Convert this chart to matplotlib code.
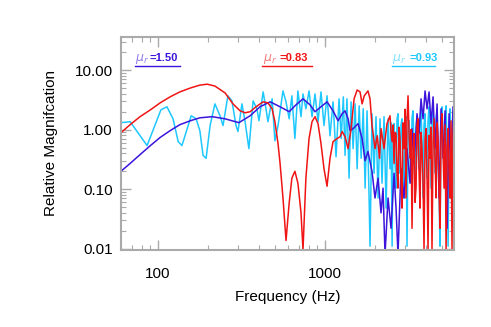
import matplotlib
matplotlib.use("Agg")
import matplotlib.pyplot as plt
from matplotlib.ticker import FixedLocator, FixedFormatter, LogLocator, NullFormatter

plt.rcParams['font.family'] = ['Liberation Sans', 'DejaVu Sans']

# mu_r = 1.50 (blue)
blue_f = [60, 68, 78, 90, 103, 118, 135, 156, 178, 211, 252, 305, 356, 408, 469, 538,
          610, 670, 738, 813, 871, 946, 1028, 1117, 1197, 1266, 1318, 1374, 1412, 1473,
          1578, 1668, 1738, 1808, 1911, 1992, 2077, 2165, 2225, 2287, 2384, 2485, 2590,
          2662, 2735, 2851, 2972, 3097, 3228, 3319, 3412, 3557, 3656, 3758, 3863, 3972,
          4083, 4197, 4315, 4436, 4560, 4688, 4819, 4954, 5093, 5236, 5383, 5534, 5680,
          5840, 5920]
blue_m = [0.20, 0.27, 0.38, 0.54, 0.74, 0.96, 1.21, 1.41, 1.58, 1.65, 1.52, 1.31, 1.71,
          2.42, 2.93, 2.42, 2.0, 2.61, 3.29, 2.61, 2.0, 2.42, 2.93, 2.07, 1.41, 1.85,
          2.07, 1.52, 0.96, 1.04, 1.26, 0.71, 0.30, 0.43, 0.20, 0.071, 0.153, 0.040,
          0.104, 0.008, 0.071, 0.022, 0.185, 0.048, 0.008, 0.22, 0.071, 0.48, 0.126,
          1.04, 0.27, 1.85, 0.86, 3.29, 1.52, 4.47, 2.24, 4.3, 1.26, 3.55, 0.48, 2.7,
          0.071, 2.24, 0.33, 2.07, 0.022, 1.85, 0.153, 2.42, 0.71]

# mu_r = 0.83 (red)
red_f = [60, 68, 78, 90, 103, 118, 135, 156, 178, 197, 219, 252, 281, 310, 332, 356,
         386, 426, 455, 482, 501, 523, 538, 560, 584, 610, 633, 660, 688, 718, 738, 768,
         802, 836, 871, 908, 946, 986, 1028, 1071, 1117, 1183, 1230, 1266, 1318, 1374,
         1432, 1493, 1557, 1621, 1668, 1717, 1808, 1860, 1911, 1992, 2054, 2120, 2165,
         2256, 2350,
         2450, 2485, 2522, 2553, 2590, 2624, 2662, 2698, 2735, 2773, 2812, 2851, 2890,
         2931, 2972, 3013, 3055, 3097, 3141, 3184, 3228, 3273, 3319, 3365, 3412, 3459,
         3507, 3557, 3606, 3656, 3705, 3758, 3808, 3863, 3916, 3972, 4026, 4083, 4139,
         4197, 4253, 4315, 4371, 4436, 4498, 4560, 4624, 4688, 4753, 4819, 4882, 4954,
         5018, 5093, 5160, 5236, 5307, 5383, 5457, 5534, 5605, 5680, 5760, 5840, 5920]
red_m = [0.89, 1.21, 1.65, 2.15, 2.82, 3.55, 4.3, 5.0, 5.6, 5.8, 5.4, 4.14, 2.71, 2.07,
         1.92, 2.0, 2.42, 2.93, 2.82, 2.24, 1.36, 0.58, 0.27, 0.071, 0.0137, 0.059,
         0.153, 0.20, 0.126, 0.040, 0.0096, 0.153, 0.71, 1.36, 1.65, 1.26, 0.58, 0.22,
         0.112, 0.33, 0.63, 0.71, 0.76, 0.93, 0.76, 0.48, 1.04, 3.29, 4.64, 4.3, 2.71,
         3.7, 4.47, 3.29, 1.17, 0.48, 0.79, 0.33, 1.04, 0.48, 1.26,
         1.71, 0.9, 0.63, 1.2, 0.27, 0.9, 0.86, 0.2, 0.104, 1.1, 0.71, 0.15, 0.048,
         1.3, 0.48, 2.2, 0.071, 1.5, 3.7, 0.9, 0.33, 1.0, 0.022, 0.5, 0.86, 0.06,
         0.104, 1.2, 1.52, 0.2, 0.048, 0.9, 0.48, 0.12, 0.01, 0.7, 1.04, 0.15, 0.0096,
         0.8, 0.33, 1.1, 0.0096, 0.6, 1.52, 0.3, 0.071, 1.3, 0.71, 0.09, 0.022, 0.8,
         1.85, 0.4, 0.104, 1.2, 0.0096, 0.5, 1.04, 0.2, 0.071, 1.4, 0.0096, 0.9, 1.52]

# mu_r = 0.93 (cyan)
cyan_f = [60, 68, 86, 104, 113, 123, 132, 139, 158, 169, 178, 186, 194, 205, 219, 235,
          245, 262, 277, 293, 301, 318, 332, 350, 371, 391, 402, 426, 443, 455, 482, 501,
          523, 560, 584, 610, 633, 660, 688, 718, 738, 768, 802, 836, 871, 908, 946, 986,
          1028, 1071, 1117, 1164, 1213, 1250, 1287, 1318, 1353, 1393, 1432, 1473, 1514,
          1557, 1601, 1646, 1693, 1738, 1785, 1836, 1860, 1911, 1965, 2020, 2077, 2135,
          2195, 2256, 2320, 2384,
          2450, 2485, 2522, 2553, 2590, 2624, 2662, 2698, 2735, 2773, 2812, 2851, 2890,
          2931, 2972, 3013, 3055, 3097, 3141, 3184, 3228, 3273, 3319, 3365, 3412, 3459,
          3507, 3557, 3606, 3656, 3705, 3758, 3808, 3863, 3916, 3972, 4026, 4083, 4139,
          4197, 4253, 4315, 4371, 4436, 4498, 4560, 4624, 4688, 4753, 4819, 4882, 4954,
          5018, 5093, 5160, 5236, 5307, 5383, 5457, 5534, 5605, 5680, 5760, 5840, 5920]
cyan_m = [1.31, 1.36, 0.54, 2.15, 2.42, 1.52, 0.63, 0.54, 1.71, 1.52, 0.96, 0.37, 0.33,
          1.17, 2.71, 1.71, 1.17, 3.7, 3.04, 1.17, 0.93, 2.71, 1.36, 0.48, 3.04, 2.24,
          1.41, 4.3, 2.24, 1.36, 3.29, 0.65, 1.17, 4.47, 2.93, 1.52, 3.7, 0.71, 4.47,
          1.65, 3.98, 2.24, 4.47, 1.65, 3.98, 1.36, 4.3, 1.17, 3.7, 0.79, 2.93, 0.35,
          3.29, 0.71, 3.55, 0.37, 3.29, 0.153, 2.93, 0.48, 2.71, 0.22, 2.51, 0.33, 2.24,
          0.104, 2.07, 0.071, 0.011, 1.85, 0.185, 1.65, 0.071, 1.52, 0.126, 1.65, 0.048,
          1.52,
          0.22, 1.3, 0.011, 0.8, 1.26, 0.3, 0.104, 1.5, 1.85, 0.4, 0.185, 1.2, 1.52,
          0.25, 0.071, 1.4, 1.65, 0.011, 0.9, 1.41, 0.3, 0.126, 1.6, 2.07, 0.5, 0.086,
          1.1, 1.65, 0.4, 0.22, 1.3, 2.24, 0.6, 0.071, 1.2, 1.85, 0.5, 0.153, 1.4,
          2.42, 0.7, 0.104, 1.3, 2.07, 0.6, 0.185, 1.5, 2.24, 0.4, 0.071, 0.011, 1.6,
          2.42, 0.8, 0.153, 1.5, 2.51, 0.5, 0.011, 1.3, 2.24, 0.6, 0.104, 1.4, 2.07]

labels = ['=1.50', '=0.83', '=0.93']
mu_x = [0.042, 0.426, 0.814]
eq_x = [0.087, 0.477, 0.865]
line_x = [(0.042, 0.177), (0.423, 0.573), (0.814, 0.943)]
blue_c = '#3c14dc'
red_c = '#f01414'
cyan_c = '#1ec8ff'
colors = [blue_c, red_c, cyan_c]

fig = plt.figure(figsize=(4.91, 3.27), dpi=100)
ax = fig.add_axes([121 / 491, 1 - 250 / 327, 333 / 491, 213 / 327])

ax.plot(cyan_f, cyan_m, color=cyan_c, lw=1.1)
ax.plot(blue_f, blue_m, color=blue_c, lw=1.1)
ax.plot(red_f, red_m, color=red_c, lw=1.1)

ax.set_xscale('log')
ax.set_yscale('log')
ax.set_xlim(60, 5920)
ax.set_ylim(0.0095, 36)

ax.yaxis.set_major_locator(FixedLocator([0.01, 0.1, 1, 10]))
ax.yaxis.set_major_formatter(FixedFormatter(['0.01', '0.10', '1.00', '10.00']))
ax.yaxis.set_minor_locator(LogLocator(base=10, subs=range(2, 10)))
ax.yaxis.set_minor_formatter(NullFormatter())
ax.xaxis.set_major_locator(FixedLocator([100, 1000]))
ax.xaxis.set_major_formatter(FixedFormatter(['100', '1000']))
ax.xaxis.set_minor_locator(LogLocator(base=10, subs=range(2, 10)))
ax.xaxis.set_minor_formatter(NullFormatter())

for s in ax.spines.values():
    s.set_color('#aaaaaa')
    s.set_linewidth(1.5)
ax.tick_params(which='both', direction='in', top=True, right=True, color='#aaaaaa',
               labelsize=11)
ax.tick_params(axis='y', pad=6)
ax.tick_params(axis='x', pad=12)
ax.tick_params(which='major', length=7, width=1)
ax.tick_params(which='minor', length=3.5, width=0.8)

ax.set_xlabel('Frequency (Hz)', fontsize=11, labelpad=7)
ax.set_ylabel('Relative Magnifcation', fontsize=11, labelpad=12)

for mx, ex, (x0, x1), lab, c in zip(mu_x, eq_x, line_x, labels, colors):
    ax.text(mx, 0.887, r'$\mu_r$', transform=ax.transAxes, color=c, alpha=0.55,
            fontsize=9, va='baseline', ha='left')
    ax.text(ex, 0.887, lab, transform=ax.transAxes, color=c,
            fontsize=8, fontweight='bold', va='baseline', ha='left')
    ax.plot([x0, x1], [0.864, 0.864], transform=ax.transAxes, color=c, lw=1.0)

fig.savefig('out.png', dpi=100)
